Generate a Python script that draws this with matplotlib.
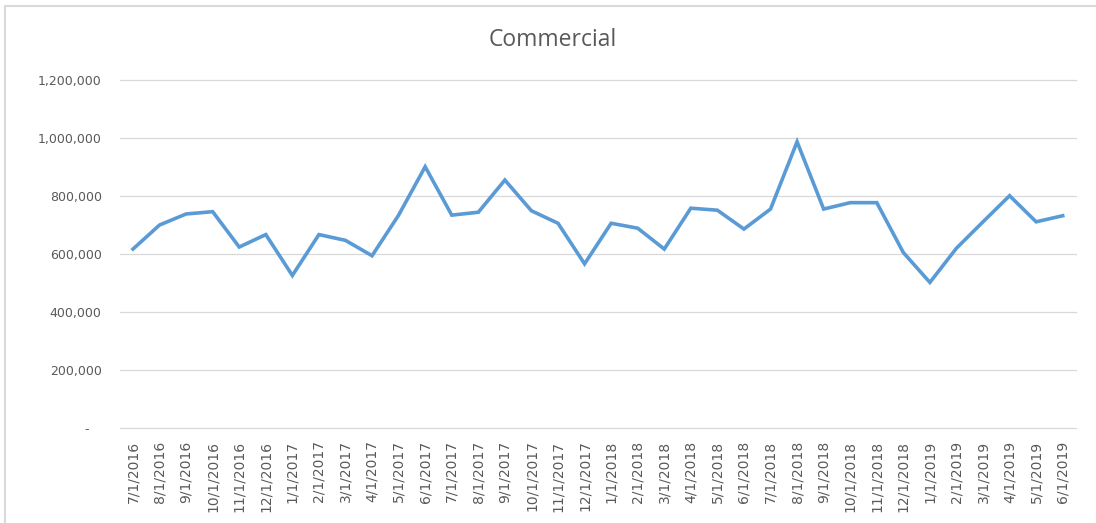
import matplotlib
matplotlib.use("Agg")
import matplotlib.pyplot as plt
from matplotlib.patches import Rectangle
from matplotlib.ticker import FuncFormatter

# monthly dates, 7/2016 .. 6/2019
dates = ['7/1/2016', '8/1/2016', '9/1/2016', '10/1/2016', '11/1/2016', '12/1/2016',
         '1/1/2017', '2/1/2017', '3/1/2017', '4/1/2017', '5/1/2017', '6/1/2017',
         '7/1/2017', '8/1/2017', '9/1/2017', '10/1/2017', '11/1/2017', '12/1/2017',
         '1/1/2018', '2/1/2018', '3/1/2018', '4/1/2018', '5/1/2018', '6/1/2018',
         '7/1/2018', '8/1/2018', '9/1/2018', '10/1/2018', '11/1/2018', '12/1/2018',
         '1/1/2019', '2/1/2019', '3/1/2019', '4/1/2019', '5/1/2019', '6/1/2019']

commercial = [617000, 700000, 738000, 746000, 624000, 667000,
              526000, 667000, 647000, 594000, 734000, 901000,
              734000, 744000, 855000, 749000, 706000, 566000,
              706000, 689000, 617000, 758000, 751000, 686000,
              755000, 987000, 755000, 777000, 777000, 605000,
              502000, 620000, 711000, 801000, 711000, 732000]

yticks = [0, 200000, 400000, 600000, 800000, 1000000, 1200000]

W, H = 1096, 523
fig = plt.figure(figsize=(W / 100, H / 100), dpi=100)

# light chart border, cut off at right and bottom like the screenshot
fig.patches.append(Rectangle((5 / W, -0.1), 1.2, 1 - 6 / H + 0.1,
                             transform=fig.transFigure, fill=False,
                             edgecolor='#d9d9d9', linewidth=1.5))

ax = fig.add_axes([119.7 / W, 95 / H, 956.3 / W, 348 / H])

x = list(range(len(dates)))
ax.plot(x, commercial, color='#5b9bd5', linewidth=2.6, solid_joinstyle='miter')

ax.set_xlim(-0.5, len(dates) - 0.5)
ax.set_ylim(0, 1200000)
ax.set_yticks(yticks)
ax.yaxis.set_major_formatter(FuncFormatter(
    lambda v, p: '-   ' if v == 0 else f'{int(v):,}'))
ax.set_xticks(x)
ax.set_xticklabels(dates, rotation=90)

ax.grid(axis='y', color='#d9d9d9', linewidth=0.9)
for gl in ax.get_ygridlines():
    gl.set_clip_on(False)
ax.set_axisbelow(True)
for s in ax.spines.values():
    s.set_visible(False)
ax.tick_params(length=0, colors='#595959', labelsize=9)
ax.tick_params(axis='x', labelsize=10, pad=9)
ax.tick_params(axis='y', pad=13)

fig.text(553 / W, 1 - 40 / H, 'Commercial', ha='center', va='center',
         fontsize=16.5, color='#595959', family='Open Sans')

fig.savefig('out.png', dpi=100)
plt.close(fig)
